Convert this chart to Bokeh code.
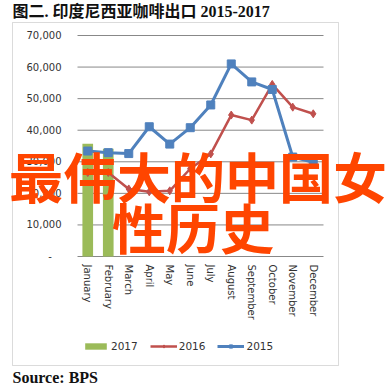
from bokeh.plotting import figure
from bokeh.models import (Range1d, FixedTicker, Label, BoxAnnotation,
                          Legend, LegendItem, ColumnDataSource)
from bokeh.embed import file_html
from bokeh.resources import INLINE

# ---- data ----
months = ["January", "February", "March", "April", "May", "June", "July",
          "August", "September", "October", "November", "December"]
exports_2017 = [35700, 34100]
exports_2016 = [26600, 26600, 21400, 20500, 20800, 27800, 32500, 44800, 43200, 54500, 47300, 45200]
exports_2015 = [33400, 32900, 32600, 41100, 35600, 40800, 48000, 61000, 55300, 52900, 31500, 29800]
y_ticks = [0, 10000, 20000, 30000, 40000, 50000, 60000, 70000]
y_tick_labels = ["-   ", "10,000", "20,000", "30,000", "40,000", "50,000", "60,000", "70,000"]
series_names = ["2017", "2016", "2015"]
title_text = "图二. 印度尼西亚咖啡出口 2015-2017"
source_text = "Source: BPS"
overlay_lines = ["最伟大的中国女", "性历史"]

GREEN, RED, BLUE = "#9BBB59", "#C0504D", "#4F81BD"
idx = list(range(len(months)))

# ---- layout (page pixels) ----
W, H = 389, 388
PAGE_X0, PAGE_Y0 = 0, 0                 # canvas origin on the page
PA_LEFT, PA_RIGHT = 77, 323             # plot area on the page
PA_TOP, PA_BOTTOM = 35, 256
YMAX = y_ticks[-1]
step = (PA_RIGHT - PA_LEFT) / len(months)
ypx = (PA_BOTTOM - PA_TOP) / YMAX
x_lo = -0.5 - (PA_LEFT - PAGE_X0) / step
x_hi = len(months) - 0.5 + (PAGE_X0 + W - PA_RIGHT) / step
y_lo = -(PAGE_Y0 + H - PA_BOTTOM) / ypx
y_hi = YMAX + (PA_TOP - PAGE_Y0) / ypx

p = figure(width=W, height=H, x_range=Range1d(x_lo, x_hi), y_range=Range1d(y_lo, y_hi),
           output_backend="svg", toolbar_location=None, title=None, min_border=0)
p.outline_line_color = None
p.background_fill_color = "white"
p.border_fill_color = "white"
p.grid.visible = False

def sx(px):
    return px - PAGE_X0
def sy(py):
    return PAGE_Y0 + H - py

# grid lines limited to the plot area
p.segment(x0=[-0.5] * len(y_ticks), x1=[len(months) - 0.5] * len(y_ticks),
          y0=y_ticks, y1=y_ticks, line_color="#888888", line_width=1)

src17 = ColumnDataSource(dict(m=idx[:len(exports_2017)], v=exports_2017))
src16 = ColumnDataSource(dict(m=idx, v=exports_2016))
src15 = ColumnDataSource(dict(m=idx, v=exports_2015))

bars = p.vbar(x="m", top="v", width=0.52, source=src17, fill_color=GREEN, line_color=None)
l16 = p.line("m", "v", source=src16, line_color=RED, line_width=2.5)
m16 = p.scatter("m", "v", source=src16, marker="diamond", size=8, color=RED)
l15 = p.line("m", "v", source=src15, line_color=BLUE, line_width=3)
m15 = p.scatter("m", "v", source=src15, marker="square", size=8, color=BLUE)

# axes (drawn inside the frame at the plot-area edges)
p.xaxis.fixed_location = 0
p.yaxis.fixed_location = -0.5
p.xaxis.ticker = FixedTicker(ticks=idx)
p.xaxis.major_label_overrides = {i: m for i, m in zip(idx, months)}
p.yaxis.ticker = FixedTicker(ticks=y_ticks)
p.yaxis.major_label_overrides = {t: l for t, l in zip(y_ticks, y_tick_labels)}
for ax in (p.xaxis[0], p.yaxis[0]):
    ax.axis_line_color = None
    ax.major_tick_line_color = None
    ax.minor_tick_line_color = None
    ax.major_tick_out = 0
    ax.major_tick_in = 0
    ax.major_label_text_font = "DejaVu Sans"
    ax.major_label_text_font_size = "10px"
    ax.major_label_text_color = "#333333"
p.yaxis.major_label_standoff = 16
p.xaxis.major_label_standoff = 8
p.xaxis.major_label_orientation = "vertical"

# chart box
box = BoxAnnotation(left=sx(12), right=sx(338), top=sy(22), bottom=sy(365),
                    left_units="screen", right_units="screen", top_units="screen", bottom_units="screen",
                    fill_alpha=0, line_color="#888888", line_width=1)
p.add_layout(box)

# legend
legend = Legend(items=[LegendItem(label=series_names[0], renderers=[bars]),
                       LegendItem(label=series_names[1], renderers=[l16, m16]),
                       LegendItem(label=series_names[2], renderers=[l15, m15])],
                orientation="horizontal", location=(sx(82), sy(352)),
                background_fill_alpha=0, border_line_alpha=0,
                label_text_font="DejaVu Sans", label_text_font_size="10.5px",
                label_text_color="#333333",
                glyph_width=27, glyph_height=8, label_standoff=2, spacing=12,
                padding=0, margin=0)
p.add_layout(legend, "center")

# title & source
p.add_layout(Label(x=sx(12), y=sy(10.5), x_units="screen", y_units="screen", text=title_text,
                   text_font="'Liberation Serif', 'Noto Sans CJK SC'", text_font_style="bold",
                   text_font_size="16px", text_color="#111111", text_align="left", text_baseline="middle"))
p.add_layout(Label(x=sx(12), y=sy(377), x_units="screen", y_units="screen", text=source_text,
                   text_font="Liberation Serif", text_font_style="bold",
                   text_font_size="16px", text_color="#111111", text_align="left", text_baseline="middle"))

# overlay text
p.add_layout(Label(x=sx(197.5), y=sy(175), x_units="screen", y_units="screen", text=overlay_lines[0],
                   text_font="Noto Sans CJK SC", text_font_style="bold",
                   text_font_size="54px", text_color="#FF4500", text_align="center", text_baseline="middle"))
p.add_layout(Label(x=sx(192.5), y=sy(226), x_units="screen", y_units="screen", text=overlay_lines[1],
                   text_font="Noto Sans CJK SC", text_font_style="bold",
                   text_font_size="54px", text_color="#FF4500", text_align="center", text_baseline="middle"))

open("out.html", "w").write(file_html(p, INLINE))
